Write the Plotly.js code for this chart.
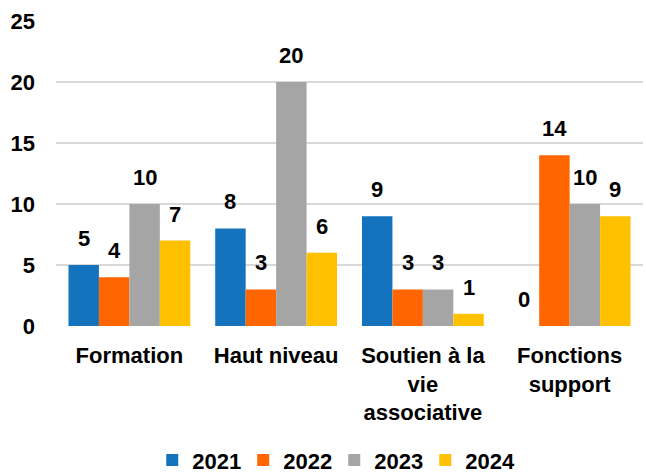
<!DOCTYPE html>
<html>
<head>
<meta charset="utf-8">
<script src="https://cdn.plot.ly/plotly-3.0.1.min.js"></script>
<style>html,body{margin:0;padding:0;background:#fff;}#chart{width:646px;height:474px;}</style>
</head>
<body>
<div id="chart"></div>
<script>
const categories = ["Formation", "Haut niveau", "Soutien à la<br>vie<br>associative", "Fonctions<br>support"];
const years = ["2021", "2022", "2023", "2024"];
const v2021 = [5, 8, 9, 0];
const v2022 = [4, 3, 3, 14];
const v2023 = [10, 20, 3, 10];
const v2024 = [7, 6, 1, 9];
const colors = ["#1473BC", "#FF6600", "#A5A5A5", "#FFC000"];

const series = [v2021, v2022, v2023, v2024];
const FONT = "Liberation Sans, Arial, sans-serif";
const FS = 22;
const plotLeft = 56, plotRight = 3;
const plotWidth = 646 - plotLeft - plotRight;
const bargap = 0.17;
const catPx = plotWidth / categories.length;
const barPx = catPx * (1 - bargap) / series.length;

const traces = series.map((vals, i) => ({
  type: "bar",
  name: years[i],
  x: categories,
  y: vals,
  marker: {color: colors[i]},
  hoverinfo: "none"
}));

const annotations = [];
series.forEach((vals, i) => {
  vals.forEach((v, j) => {
    annotations.push({
      x: categories[j], y: v, xref: "x", yref: "y",
      text: String(v), showarrow: false,
      xanchor: "center", yanchor: "bottom",
      xshift: (i - (series.length - 1) / 2) * barPx,
      yshift: 12,
      font: {family: FONT, size: FS, color: "#000", weight: "bold"}
    });
  });
});

const layout = {
  width: 646, height: 474,
  margin: {l: plotLeft, r: plotRight, t: 21, b: 148, autoexpand: false},
  paper_bgcolor: "#fff", plot_bgcolor: "#fff",
  barmode: "group", bargap: bargap, bargroupgap: 0,
  font: {family: FONT, size: FS, color: "#000", weight: "bold"},
  xaxis: {
    type: "category", showgrid: false, zeroline: false, showline: false,
    ticks: "", ticklabelstandoff: 14, automargin: false,
    tickfont: {family: FONT, size: FS, color: "#000", weight: "bold"}
  },
  yaxis: {
    range: [0, 25], dtick: 5, showgrid: true, gridcolor: "#D9D9D9", gridwidth: 2,
    zeroline: false, showline: false, ticks: "", ticklabelstandoff: 20, automargin: false,
    tickfont: {family: FONT, size: FS, color: "#000", weight: "bold"}
  },
  legend: {
    orientation: "h", x: 0.474, xanchor: "center", y: -0.44, yanchor: "middle",
    font: {family: FONT, size: FS, color: "#000", weight: "bold"},
    itemwidth: 30, traceorder: "normal", entrywidth: 46
  },
  annotations: annotations,
  showlegend: true
};

Plotly.newPlot("chart", traces, layout, {displayModeBar: false, staticPlot: true});
</script>
</body>
</html>
